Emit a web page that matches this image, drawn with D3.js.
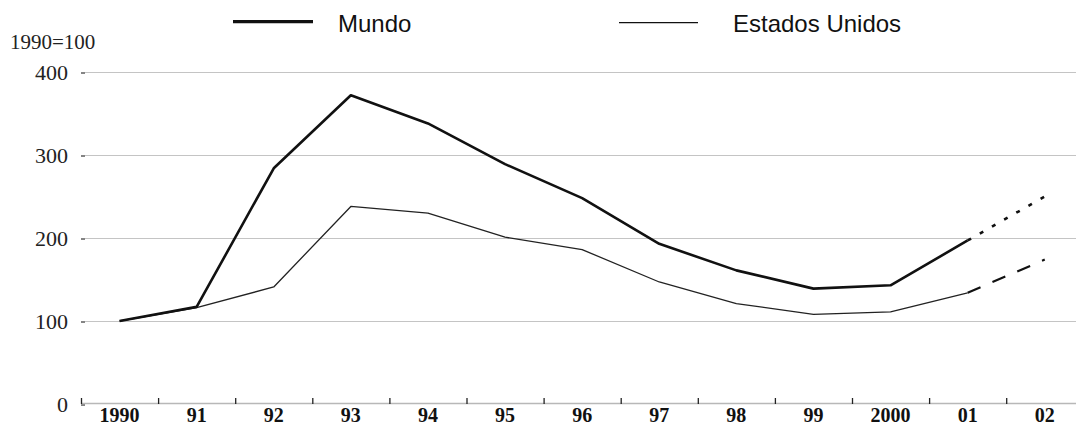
<!DOCTYPE html>
<html>
<head>
<meta charset="utf-8">
<script src="https://cdn.jsdelivr.net/npm/d3@7/dist/d3.min.js"></script>
<style>
html,body{margin:0;padding:0;background:#fff;}
svg{display:block;}
</style>
</head>
<body>
<svg id="chart" width="1076" height="427"></svg>
<script>
const years = ["1990","91","92","93","94","95","96","97","98","99","2000","01","02"];
const mundo = [100,117,284,372,338,289,248,193,161,139,143,197,250];
const eeuu = [100,116,141,238,230,201,186,147,121,108,111,134,174];
const yTicks = [0,100,200,300,400];
const seriesNames = ["Mundo","Estados Unidos"];
const unitLabel = "1990=100";
const lastActual = 11; // index of "01": after this the line is a projection

const W = 1076, H = 427;
const svg = d3.select("#chart");

const x = d3.scaleBand().domain(years).range([81, 81 + 13 * 77.1]).padding(0);
const y = d3.scaleLinear().domain([0, 400]).range([404, 72]);
const cx = d => x(d) + x.bandwidth() / 2;

// grid lines
svg.append("g").selectAll("line").data(yTicks.filter(v => v > 0)).join("line")
  .attr("x1", 85).attr("x2", W)
  .attr("y1", d => y(d) + 0.5).attr("y2", d => y(d) + 0.5)
  .attr("stroke", "#c4c4c4").attr("stroke-width", 1.2);

// y axis (ticks + labels, no domain line)
const yAxis = d3.axisLeft(y).tickValues(yTicks).tickSize(4).tickPadding(13);
const gy = svg.append("g").attr("transform", "translate(85,0.5)").call(yAxis);
gy.select(".domain").remove();
gy.selectAll(".tick line").attr("stroke", "#333").attr("stroke-width", 1.2);
gy.selectAll(".tick text")
  .attr("font-family", "'Liberation Serif','Times New Roman',serif")
  .attr("font-size", 22).attr("fill", "#222");

// x axis: line + ticks at band boundaries (pointing up)
svg.append("line").attr("x1", 81).attr("x2", W)
  .attr("y1", 403.5).attr("y2", 403.5)
  .attr("stroke", "#b8b8b8").attr("stroke-width", 1.5);
svg.append("g").selectAll("line").data(years).join("line")
  .attr("x1", d => x(d) + 0.5).attr("x2", d => x(d) + 0.5)
  .attr("y1", 398).attr("y2", 404)
  .attr("stroke", "#222").attr("stroke-width", 1.3);
svg.append("g").selectAll("text").data(years).join("text")
  .attr("x", d => cx(d)).attr("y", 422)
  .attr("text-anchor", "middle")
  .attr("font-family", "'Liberation Serif','Times New Roman',serif")
  .attr("font-weight", "bold").attr("font-size", 20).attr("fill", "#111")
  .text(d => d);

// unit label
svg.append("text").attr("x", 10).attr("y", 49)
  .attr("font-family", "'Liberation Serif','Times New Roman',serif")
  .attr("font-size", 21).attr("fill", "#222").text(unitLabel);

// lines
const line = d3.line().x(d => cx(d.k)).y(d => y(d.v));
function pts(arr, a, b) {
  return arr.map((v, i) => ({k: years[i], v})).slice(a, b + 1);
}
// Estados Unidos
svg.append("path").attr("d", line(pts(eeuu, 0, lastActual)))
  .attr("fill", "none").attr("stroke", "#222").attr("stroke-width", 1.3)
  .attr("stroke-linejoin", "round");
svg.append("path").attr("d", line(pts(eeuu, lastActual, years.length - 1)))
  .attr("fill", "none").attr("stroke", "#111").attr("stroke-width", 2.2)
  .attr("stroke-dasharray", "14,13");
// Mundo
svg.append("path").attr("d", line(pts(mundo, 0, lastActual)))
  .attr("fill", "none").attr("stroke", "#111").attr("stroke-width", 2.6)
  .attr("stroke-linejoin", "round");
svg.append("path").attr("d", line(pts(mundo, lastActual, years.length - 1)))
  .attr("fill", "none").attr("stroke", "#111").attr("stroke-width", 2.6)
  .attr("stroke-dasharray", "4,10");

// legend
const legend = svg.append("g");
const legItems = [
  {name: seriesNames[0], x1: 233, x2: 313, y: 21.7, w: 3.2, tx: 338},
  {name: seriesNames[1], x1: 619, x2: 698, y: 22.7, w: 1.3, tx: 733}
];
legItems.forEach(it => {
  legend.append("line").attr("x1", it.x1).attr("x2", it.x2)
    .attr("y1", it.y).attr("y2", it.y)
    .attr("stroke", "#111").attr("stroke-width", it.w);
  legend.append("text").attr("x", it.tx).attr("y", 31.5)
    .attr("font-family", "'Liberation Sans',Arial,sans-serif")
    .attr("font-size", 24).attr("fill", "#111").text(it.name);
});
</script>
</body>
</html>
